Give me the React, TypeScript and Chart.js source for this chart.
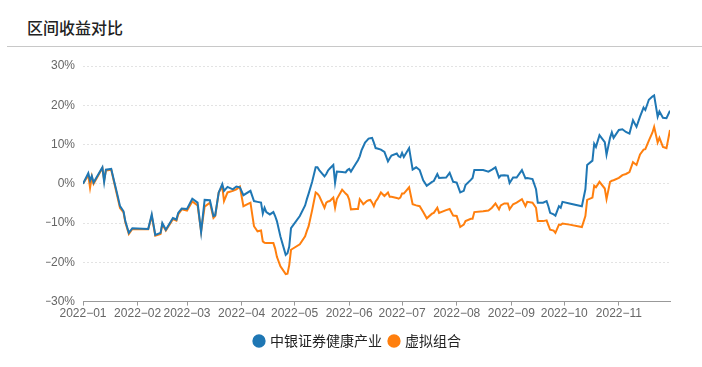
import React, { useEffect, useRef } from "react";
import { Chart, registerables } from "chart.js";

Chart.register(...registerables);

// x positions: days since 2022-01-01
const monthStarts = [0, 31, 59, 90, 120, 151, 181, 212, 243, 273, 304];
const monthLabels = [
  "2022−01", "2022−02", "2022−03", "2022−04", "2022−05", "2022−06",
  "2022−07", "2022−08", "2022−09", "2022−10", "2022−11",
];
const seriesNames = ["中银证券健康产业", "虚拟组合"];

const days = [
  0, 3, 4, 5, 6, 11, 12, 13, 16, 18, 19, 21, 23, 24, 26, 28, 37, 39, 41, 44, 45, 47, 51, 53, 54, 56, 59,
  62, 65, 67, 69, 72, 74, 75, 77, 79, 80, 82, 85, 87, 89, 91, 95, 97, 99, 101, 102, 103, 104, 106, 108,
  109, 110, 112, 115, 116, 117, 118, 123, 126, 127, 128, 130, 132, 133, 134, 137, 138, 139, 140, 142,
  143, 144, 147, 149, 150, 151, 152, 155, 156, 157, 158, 159, 160, 161, 162, 163, 164, 165, 166, 167,
  169, 171, 173, 174, 175, 178, 179, 180, 181, 182, 185, 187, 189, 191, 193, 195, 198, 199, 201, 202,
  206, 208, 210, 212, 214, 216, 217, 220, 221, 222, 227, 230, 232, 234, 236, 237, 239, 241, 242, 244,
  246, 249, 251, 252, 255, 257, 258, 261, 263, 264, 265, 267, 268, 270, 271, 272, 276, 283, 285, 286,
  289, 290, 291, 293, 296, 297, 299, 300, 301, 304, 306, 308, 310, 312, 314, 316, 318, 319, 321, 323,
  324, 326, 327, 329, 331, 333,
];

const healthFund = [
  0, 2.7, 0.8, 2.0, 0.3, 4.2, 0.5, 3.6, 3.8, 0.0, -1.8, -5.7, -7.0, -9.5, -12.5, -11.3, -11.5, -7.8, -13.0,
  -12.5, -10.0, -11.7, -8.7, -9.1, -7.4, -6.3, -6.4,
  -3.8, -4.8, -12.3, -4.1, -4.2, -8.2, -8.0, -2.2, -0.1, -1.8, -0.8, -1.4, -0.7, -0.9, -2.9, -1.8, -4.4,
  -4.6, -4.8, -7.6, -6.1, -7.2, -7.8, -7.2,
  -8.2, -9.5, -13.4, -18.1, -17.7, -16.0, -11.3, -8.2, -5.5, -3.9, -2.5, 0.5, 4.2, 4.2, 3.5, 1.9, 2.5,
  3.4, 3.9, 4.8,
  0.3, 3.1, 3.0, 2.9, 3.5, 3.8, 3.1, 5.3, 6.0, 7.0, 8.5, 9.5, 10.5, 11.0, 11.5, 11.6, 11.7, 10.5, 9.1, 9.0,
  8.7, 8.1, 5.7, 6.5, 7.2, 7.7, 7.0, 6.8, 7.9, 6.8, 9.1, 3.6, 4.2, 3.5, 0.9, -0.5, 0.5, 0.7, 2.5, 1.5,
  1.6, 2.8, 0.5, 0.3, -2.2, -1.8, -0.3, 1.0, 1.5, 3.5, 3.5, 3.1, 3.6, 4.2, 1.6, 2.1, 2.2, 2.1, 0.2, 1.6,
  1.6, 3.5, 1.4, 1.5, 1.2, -1.4, -4.8, -4.8, -4.4, -5.7, -7.4, -7.8, -8.1, -5.7, -6.1, -4.6, -5.0, -5.7,
  -1.4, 4.8,
  5.9, 10.2, 9.4, 12.4, 10.6, 7.4, 11.7, 13.1, 11.7, 13.7, 13.9, 13.2, 12.8, 16.2, 14.5, 17.1, 19.4, 18.8,
  21.4, 22.2,
  22.5, 17.1, 18.4, 16.8, 16.7, 18.6,
];

const virtualPortfolio = [
  0, 2.2, -1.0, 1.8, 0.0, 4.0, 1.0, 3.4, 3.6, -0.3, -2.3, -6.2, -7.3, -9.8, -12.8, -11.5, -11.6, -8.2,
  -13.2, -12.8, -10.3, -11.9, -9.0, -9.4, -7.8, -6.5, -6.8,
  -4.5, -5.5, -12.1, -5.8, -4.8, -8.7, -8.2, -2.2, -0.7, -4.4, -2.2, -1.8, -1.4, -0.7, -5.7, -4.8, -10.8,
  -12.1, -11.9, -14.7, -15.0, -15.1, -15.1, -15.1,
  -16.5, -18.6, -21.0, -23.0, -22.9, -20.7, -16.8, -15.4, -13.4, -12.0, -10.8, -6.7, -2.2, -2.5, -3.1,
  -6.1, -4.8, -4.5, -4.4, -3.5,
  -6.1, -3.9, -1.5, -2.5, -2.9, -4.0, -6.5, -6.4, -6.4, -3.9, -4.5, -5.2, -4.8, -4.4, -4.2, -4.1, -4.8,
  -5.7, -4.5, -3.9,
  -2.2, -3.1, -2.2, -3.3, -3.3, -3.6, -3.8, -3.5, -2.5, -2.5, -0.9, -5.2, -5.5, -5.7, -7.2, -8.8, -7.6,
  -7.4, -6.1, -7.4,
  -6.7, -6.4, -8.1, -8.2, -11.0, -10.4, -9.5, -8.9, -8.9, -7.2, -7.0, -6.8, -6.1, -5.0, -6.5, -5.5, -5.0,
  -5.0, -6.5, -5.2,
  -4.8, -3.9, -5.7, -4.6, -4.8, -6.1, -9.5, -9.5, -9.3, -10.5, -11.7, -11.9, -12.5, -10.4, -10.5, -10.1,
  -10.4, -11.0, -8.2, -4.1,
  -3.5, -0.5, -0.9, 0.5, -1.2, -3.9, 0.5, 0.8, 0.9, 1.5, 2.2, 2.5, 3.0, 5.5, 4.8, 7.5, 8.7, 8.8, 11.0,
  13.0,
  14.5, 10.5, 11.7, 9.4, 9.1, 13.7,
];

const yMin = -30;
const yMax = 30;
const yStep = 10;

const BLUE = "#1f77b4";
const ORANGE = "#ff7f0e";
const LATIN = "'Liberation Sans', Arial, sans-serif";
const CJK = "'Noto Sans CJK SC', 'Liberation Sans', sans-serif";

function fmtPct(v: number): string {
  const n = Number(v);
  return (n < 0 ? "−" + Math.abs(n) : String(n)) + "%";
}

export default function App() {
  const canvasRef = useRef<HTMLCanvasElement | null>(null);

  useEffect(() => {
    const canvas = canvasRef.current;
    if (!canvas) return;
    const toPoints = (vals: number[]) => days.map((d, i) => ({ x: d, y: vals[i] }));
    const chart = new Chart(canvas, {
      type: "line",
      data: {
        datasets: [
          {
            label: seriesNames[0],
            data: toPoints(healthFund),
            borderColor: BLUE,
            backgroundColor: BLUE,
            borderWidth: 2,
            pointRadius: 0,
            tension: 0,
          },
          {
            label: seriesNames[1],
            data: toPoints(virtualPortfolio),
            borderColor: ORANGE,
            backgroundColor: ORANGE,
            borderWidth: 2,
            pointRadius: 0,
            tension: 0,
          },
        ],
      },
      options: {
        animation: false,
        responsive: false,
        maintainAspectRatio: false,
        layout: { padding: { left: 46, right: 32, top: 16, bottom: 9 } },
        plugins: {
          tooltip: { enabled: false },
          legend: {
            position: "bottom",
            labels: {
              usePointStyle: true,
              pointStyle: "circle",
              boxWidth: 8,
              boxHeight: 8,
              padding: 8,
              color: "#222",
              font: { family: CJK, size: 14 },
            },
          },
        },
        scales: {
          x: {
            type: "linear",
            min: 0,
            max: 333,
            afterBuildTicks: (scale: any) => {
              scale.ticks = monthStarts.map((v) => ({ value: v }));
            },
            afterFit: (scale: any) => {
              scale.height += 4;
            },
            ticks: {
              autoSkip: false,
              maxRotation: 0,
              minRotation: 0,
              padding: 1,
              color: "#666",
              font: { family: LATIN, size: 12 },
              callback: (_v: any, i: number) => monthLabels[i],
            },
            grid: {
              drawOnChartArea: false,
              drawTicks: true,
              tickLength: 4,
              color: "#999",
            },
            border: { display: true, color: "#999", width: 1 },
          },
          y: {
            min: yMin,
            max: yMax,
            afterFit: (scale: any) => {
              scale.width = 37;
            },
            ticks: {
              stepSize: yStep,
              padding: 8,
              color: "#666",
              font: { family: LATIN, size: 12 },
              callback: (v: any) => fmtPct(v),
            },
            grid: {
              color: "#e3e3e3",
              drawTicks: false,
            },
            border: { display: false, dash: [2, 2] },
          },
        },
      },
    });
    return () => chart.destroy();
  }, []);

  return (
    <div
      style={{
        position: "fixed",
        left: 0,
        top: 0,
        width: 702,
        height: 367,
        background: "#fff",
        overflow: "hidden",
      }}
    >
      <div
        style={{
          position: "absolute",
          left: 27,
          top: 15,
          fontFamily: CJK,
          fontSize: 16,
          lineHeight: "24px",
          color: "#222",
          fontWeight: 500,
        }}
      >
        区间收益对比
      </div>
      <div
        style={{
          position: "absolute",
          left: 7,
          right: 0,
          top: 46,
          height: 1,
          background: "#c8c8c8",
        }}
      />
      <canvas
        ref={canvasRef}
        width={702}
        height={317}
        style={{ position: "absolute", left: 0, top: 50, width: 702, height: 317 }}
      />
    </div>
  );
}
